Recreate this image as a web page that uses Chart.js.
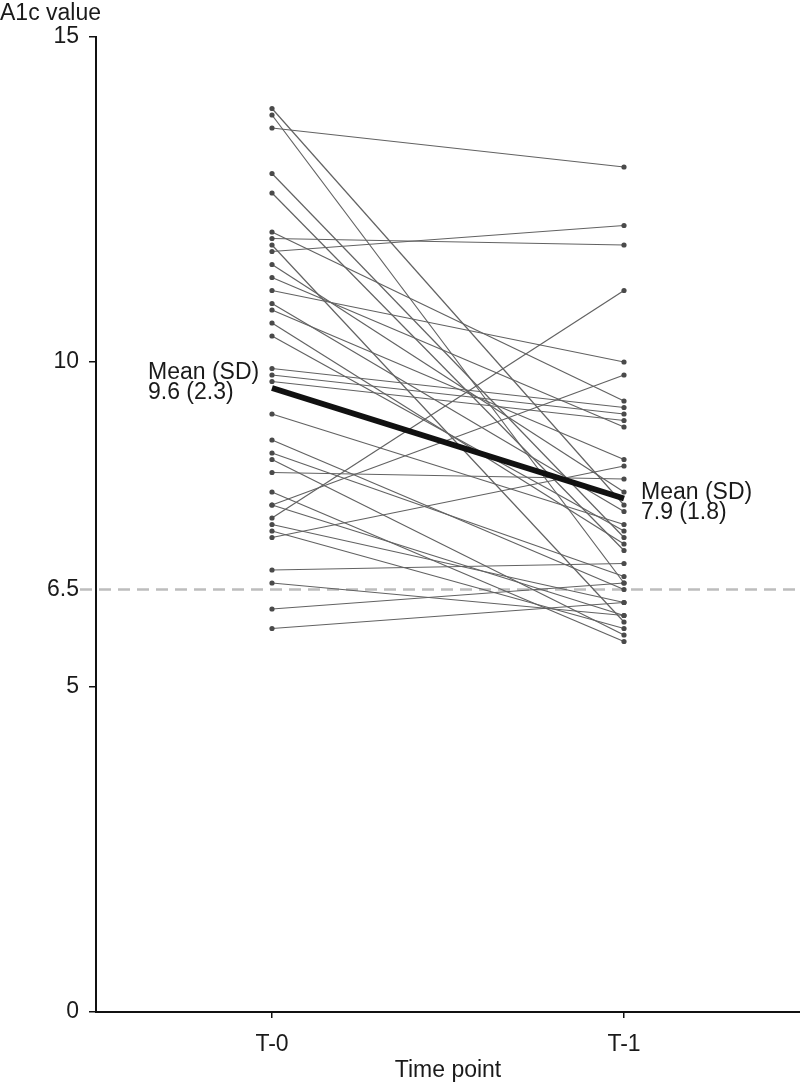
<!DOCTYPE html>
<html>
<head>
<meta charset="utf-8">
<script src="https://cdn.jsdelivr.net/npm/chart.js@4.4.1/dist/chart.umd.min.js"></script>
<style>
  html, body { margin: 0; padding: 0; background: #ffffff; }
  #wrap { width: 800px; height: 1085px; position: relative; }
</style>
</head>
<body>
<div id="wrap"><canvas id="c" width="800" height="1085"></canvas></div>
<script>
// ---- data ----
const categories = ['T-0', 'T-1'];
const t0Values = [13.9, 13.8, 13.6, 12.9, 12.6, 12.0, 11.9, 11.8, 11.7, 11.5, 11.3, 11.1, 10.9, 10.8, 10.6, 10.4, 9.9, 9.8, 9.7, 9.2, 8.8, 8.6, 8.5, 8.3, 8.0, 7.8, 7.8, 7.6, 7.5, 7.4, 7.3, 6.8, 6.6, 6.2, 5.9];
const t1Values = [7.8, 6.6, 13.0, 7.3, 7.1, 9.4, 11.8, 6.0, 12.1, 8.0, 9.0, 10.0, 7.7, 8.5, 7.2, 7.4, 9.3, 9.2, 9.1, 7.5, 6.5, 6.7, 5.8, 8.2, 5.7, 9.8, 6.1, 11.1, 6.3, 5.9, 8.4, 6.9, 6.1, 6.6, 6.3];
const meanValues = [9.6, 7.9];
const sdValues = [2.3, 1.8];
const yTickValues = [0, 5, 6.5, 10, 15];
const targetA1c = 6.5;
const yAxisTitle = 'A1c value';
const xAxisTitle = 'Time point';

const FONT = "'Liberation Sans', Arial, sans-serif";
const TEXT = '#1a1a1a';
const FS = 23;

const datasets = t0Values.map((v, i) => ({
  data: [v, t1Values[i]],
  borderColor: '#626262',
  borderWidth: 1.2,
  pointRadius: 2.6,
  pointBackgroundColor: '#4a4a4a',
  pointBorderWidth: 0,
  order: 2
}));
datasets.push({
  data: meanValues,
  borderColor: '#111111',
  borderWidth: 6,
  pointRadius: 0,
  order: 1
});

const annotatePlugin = {
  id: 'annot',
  beforeDatasetsDraw(chart) {
    const {ctx, chartArea, scales: {y}} = chart;
    const py = y.getPixelForValue(targetA1c);
    ctx.save();
    ctx.strokeStyle = '#bdbdbd';
    ctx.lineWidth = 2.5;
    ctx.setLineDash([12, 7]);
    ctx.beginPath();
    ctx.moveTo(y.right - 16, py);
    ctx.lineTo(chartArea.right, py);
    ctx.stroke();
    ctx.restore();
  },
  afterDatasetsDraw(chart) {
    const {ctx} = chart;
    const meta = chart.getDatasetMeta(chart.data.datasets.length - 1);
    const p0 = meta.data[0], p1 = meta.data[1];
    ctx.save();
    ctx.fillStyle = TEXT;
    ctx.font = FS + 'px ' + FONT;
    ctx.textAlign = 'left';
    ctx.textBaseline = 'middle';
    ctx.fillText('Mean (SD)', p0.x - 124, p0.y - 15);
    ctx.fillText(meanValues[0].toFixed(1) + ' (' + sdValues[0].toFixed(1) + ')', p0.x - 124, p0.y + 5);
    ctx.fillText('Mean (SD)', p1.x + 17, p1.y - 6);
    ctx.fillText(meanValues[1].toFixed(1) + ' (' + sdValues[1].toFixed(1) + ')', p1.x + 17, p1.y + 14);
    ctx.restore();
  }
};

new Chart(document.getElementById('c'), {
  type: 'line',
  data: { labels: categories, datasets },
  options: {
    responsive: false,
    animation: false,
    events: [],
    layout: { padding: 0, autoPadding: false },
    plugins: {
      legend: { display: false },
      tooltip: { enabled: false },
      title: {
        display: true,
        text: yAxisTitle,
        align: 'start',
        color: TEXT,
        font: { family: FONT, size: FS, weight: 'normal', lineHeight: 1.2 },
        padding: { top: 0, bottom: 9.4 }
      }
    },
    scales: {
      x: {
        type: 'category',
        offset: true,
        grid: { display: true, drawOnChartArea: false, drawTicks: true, tickLength: 6, color: '#111', lineWidth: 1.5 },
        border: { display: true, color: '#111', width: 2 },
        ticks: { color: TEXT, font: { family: FONT, size: FS }, padding: 13 },
        title: { display: true, text: xAxisTitle, color: TEXT, font: { family: FONT, size: FS }, padding: { top: 0, bottom: 1 } },
        afterFit(scale) { scale.height = 73; scale.paddingLeft = 0; scale.paddingRight = 0; }
      },
      y: {
        min: 0,
        max: 15,
        afterBuildTicks(scale) { scale.ticks = yTickValues.map(v => ({ value: v })); },
        grid: {
          display: true, drawOnChartArea: false, drawTicks: true, tickLength: 7, lineWidth: 1.5,
          color: ctx => (ctx.tick && ctx.tick.value === targetA1c) ? 'rgba(0,0,0,0)' : '#111'
        },
        border: { display: true, color: '#111', width: 2 },
        ticks: {
          color: TEXT, font: { family: FONT, size: FS }, padding: 10,
          callback: v => String(v)
        },
        afterFit(scale) { scale.width = 96; }
      }
    }
  },
  plugins: [annotatePlugin]
});
</script>
</body>
</html>
